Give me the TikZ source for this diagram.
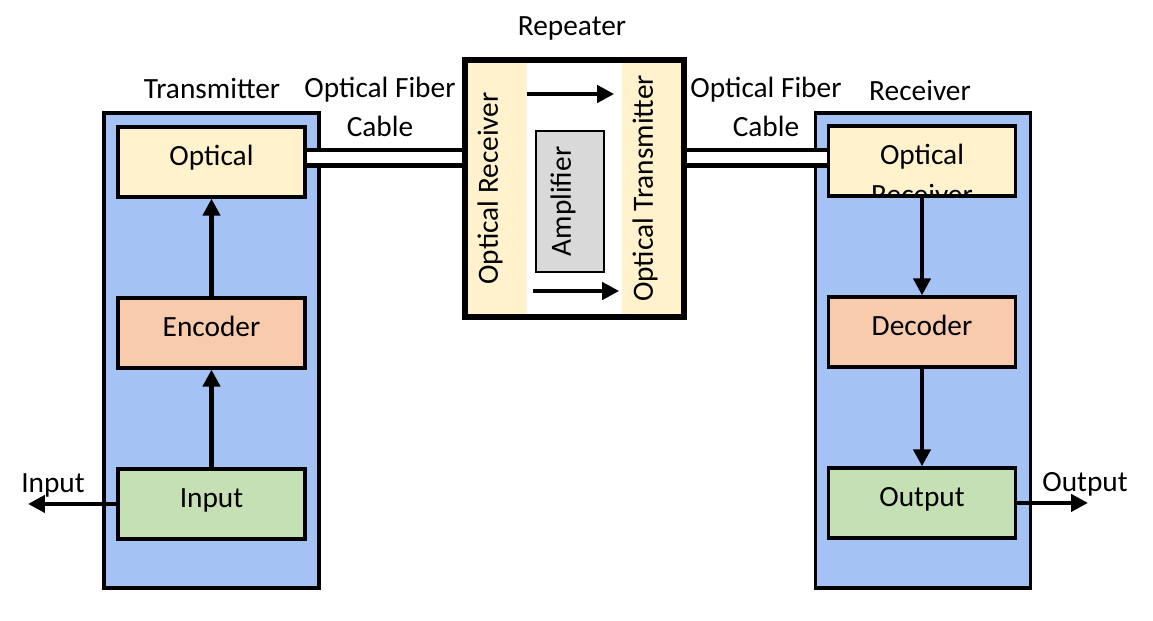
\documentclass[tikz,border=0pt]{standalone}
\usepackage{fontspec}
\setmainfont{Carlito}
\usetikzlibrary{positioning,arrows.meta}

\definecolor{unitblue}{HTML}{A4C2F4}
\definecolor{optcream}{HTML}{FFF2CC}
\definecolor{codeorange}{HTML}{F8CBAD}
\definecolor{iogreen}{HTML}{C5E0B4}
\definecolor{ampgray}{HTML}{D9D9D9}

\tikzstyle{unit} = [rectangle, minimum width=4.3cm, minimum height=9.5cm, fill=unitblue, draw=black, line width=0.066cm]
\tikzstyle{s} = [rectangle, minimum width=3.74cm, minimum height=1.4cm, text height=0.44cm, text depth=0.3cm, draw=black, line width=0.066cm]
\tikzstyle{strip} = [rectangle, minimum width=1.2cm, minimum height=5.06cm, fill=optcream, draw=none]
\tikzstyle{cable} = [double=white, double distance=0.22cm, line width=0.09cm]
\tikzstyle{arr} = [->, line width=0.09cm]

\begin{document}
\begin{tikzpicture}[x=0.02cm, y=-0.02cm, node distance=3.42cm, font=\fontsize{16.7}{20}\selectfont, >={Triangle[length=0.34cm,width=0.34cm]}]
\useasboundingbox (0,0) rectangle (1153,621);

% transmitter
\node[unit] (tx) at (211.5,350.5) {};
\node (txLabel) at (212,89) {Transmitter};
\node[s, fill=optcream] (otx) at (211.5,162) {Optical};
\node[s, fill=codeorange] (enc) [below of=otx] {Encoder};
\node[s, fill=iogreen] (inp) [below of=enc] {Input};

\draw[arr] (inp) -- (enc);
\draw[arr] (enc) -- (otx);

\coordinate (inEnd) at (28,505);
\draw[arr] (inp.west) -- (inp.west -| inEnd);
\node (inLabel) at (53,485) {Input};

% repeater
\node[strip] (rrx) at (497,188.5) {};
\node[strip] (rtx) at (651.5,188.5) {};
\node[rotate=90] (rrxText) at (490,188.5) {Optical Receiver};
\node[rotate=90] (rtxText) at (645,188.5) {Optical Transmitter};
\node[rectangle, minimum width=1.36cm, minimum height=2.82cm, fill=ampgray, draw=black, line width=0.04cm] (amp) at (570,201.5) {};
\node[rotate=90] (ampText) at (563,201.5) {Amplifier};
\node[rectangle, draw=black, line width=0.11cm, minimum width=4.38cm, minimum height=5.14cm] (rep) at (574.5,188.5) {};
\node (repLabel) at (572,28) {Repeater};

\coordinate (topArr) at (0,94);
\coordinate (botArr) at (0,291);
\draw[arr, shorten >=0.14cm] (rrx.east |- topArr) -- (rtx.west |- topArr);
\draw[arr, shorten <=0.12cm, shorten >=0.04cm] (rrx.east |- botArr) -- (rtx.west |- botArr);

% receiver
\node[unit] (rx) at (923,350.5) {};
\node (rxLabel) at (920,91) {Receiver};
\node[s, fill=optcream] (orx) at (922,161) {Optical};
\node[s, fill=codeorange] (dec) [below of=orx] {Decoder};
\node[s, fill=iogreen] (out) [below of=dec] {Output};

\begin{scope}
\clip (orx.south west) rectangle (orx.north east);
\node[anchor=base] (orxCut) at ([yshift=-0.88cm]orx.center) {Receiver};
\end{scope}

\draw[arr] (orx) -- (dec);
\draw[arr] (dec) -- (out);

\coordinate (outEnd) at (1088,505);
\draw[arr] (out.east) -- (out.east -| outEnd);
\node (outLabel) at (1085,484) {Output};

% cables
\coordinate (cabTx) at ([yshift=0.08cm]otx.east);
\coordinate (cabRx) at ([yshift=0.06cm]orx.west);
\draw[cable] (cabTx) -- (cabTx -| rep.west);
\draw[cable] (rep.east |- cabRx) -- (cabRx);
\node (fibL) at (380,90) {Optical Fiber};
\node (cabL) at (380,126) {Cable};
\node (fibR) at (766,90) {Optical Fiber};
\node (cabR) at (766,126) {Cable};

\end{tikzpicture}
\end{document}
